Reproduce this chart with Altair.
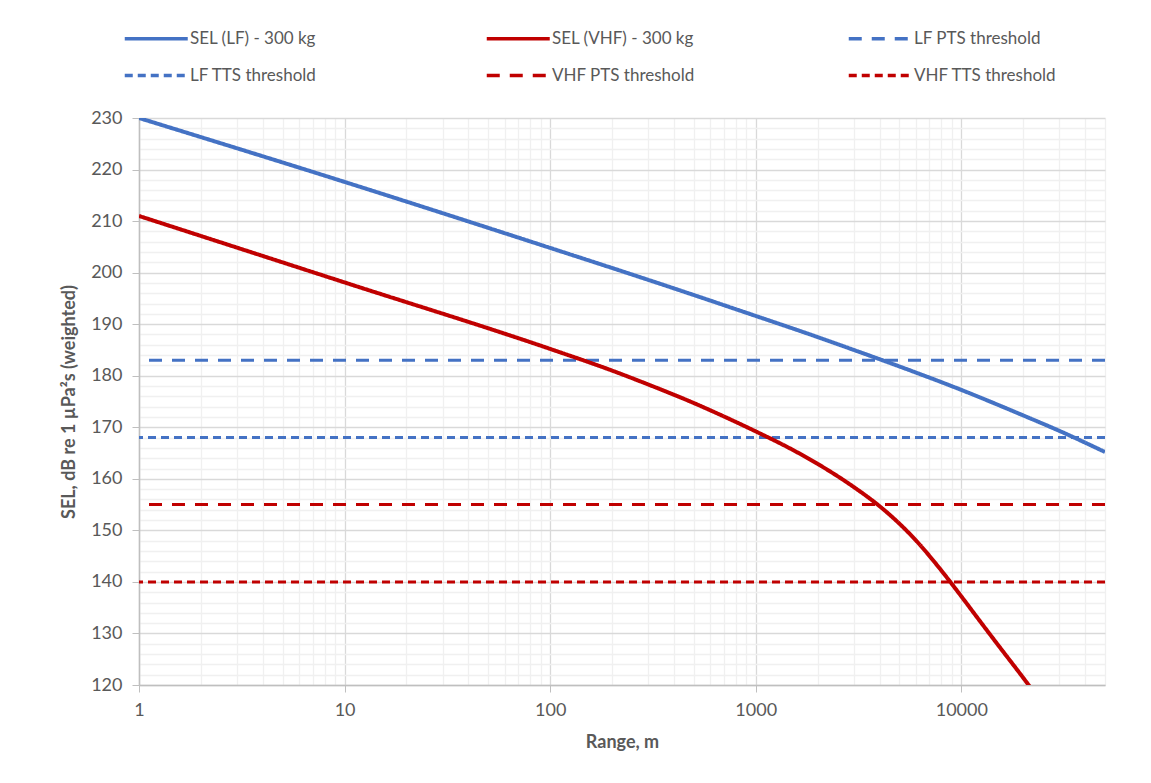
import altair as alt
import pandas as pd

# ---- data ----
lf_range = [1, 10, 100, 300, 1000, 2000, 3000, 5000, 10000, 20000, 30000, 50000]
lf_sel = [230.0, 217.6, 204.8, 198.6, 191.6, 187.5, 185.0, 181.8, 177.25, 172.3, 169.3, 165.2]

vhf_range = [1, 10, 100, 200, 300, 500, 700, 1000, 1500, 2000, 3000, 4000, 5000, 6000,
             8000, 10000, 12000, 15000, 20000, 22000]
vhf_sel = [211.0, 198.1, 185.2, 181.0, 178.3, 174.7, 172.1, 169.2, 165.7, 162.9, 158.4,
           154.7, 151.3, 148.1, 142.2, 137.2, 133.0, 127.9, 121.4, 119.2]

series_names = ["SEL (LF) - 300 kg", "SEL (VHF) - 300 kg", "LF PTS threshold",
                "LF TTS threshold", "VHF PTS threshold", "VHF TTS threshold"]
series_colors = ["#4472C4", "#C00000", "#4472C4", "#4472C4", "#C00000", "#C00000"]
series_dash = [[1, 0], [1, 0], [13, 10], [8, 5], [13, 10], [8, 5]]

threshold_names = ["LF PTS threshold", "LF TTS threshold", "VHF PTS threshold", "VHF TTS threshold"]
threshold_values = [183, 168, 155, 140]

x_major = [1, 10, 100, 1000, 10000]
x_ticks = [d * m for d in x_major for m in range(1, 10) if d * m <= 50000]
y_ticks = list(range(120, 232, 2))

curves = pd.concat([
    pd.DataFrame({"range": lf_range, "sel": lf_sel, "series": series_names[0]}),
    pd.DataFrame({"range": vhf_range, "sel": vhf_sel, "series": series_names[1]}),
])
thresholds = pd.DataFrame({"sel": threshold_values, "series": threshold_names})

FONT = "Lato"
GREY = "#595959"

legend = alt.Legend(
    title=None, orient="none", legendX=-16, legendY=-97, columns=3,
    direction="horizontal",
    gridAlign="all", columnPadding=146, rowPadding=11, symbolType="M-1,0L3,0",
    symbolSize=992, symbolStrokeWidth=3.5, labelFontSize=17, labelColor=GREY,
    labelFont=FONT, labelOffset=32, padding=0,
)

color = alt.Color("series:N", scale=alt.Scale(domain=series_names, range=series_colors), legend=legend)
dash = alt.StrokeDash("series:N", scale=alt.Scale(domain=series_names, range=series_dash), legend=legend)

major_test = "indexof([1,10,100,1000,10000], datum.value) >= 0"
x_axis = alt.Axis(
    values=x_ticks, tickCount=200, format="d",
    labelExpr=f"{major_test} ? datum.label : ''",
    gridColor={"condition": {"test": major_test, "value": "#d9d9d9"}, "value": "#f0f0f0"},
    tickColor={"condition": {"test": major_test, "value": "#bfbfbf"}, "value": "transparent"},
    gridWidth=1.3, tickSize=7, domainColor="#bfbfbf", domainWidth=1.5,
    labelFontSize=18, labelColor=GREY, labelFont=FONT, labelPadding=9,
    labelOverlap=False, labelFlush=False,
    title="Range, m", titleFontSize=18, titleFont=FONT, titleFontWeight="bold",
    titleColor=GREY, titlePadding=14,
)
y_axis = alt.Axis(
    values=y_ticks, tickCount=200, format="d",
    labelExpr="datum.value % 10 === 0 ? datum.label : ''",
    gridColor={"condition": {"test": "datum.value % 10 === 0", "value": "#d9d9d9"}, "value": "#f0f0f0"},
    tickColor={"condition": {"test": "datum.value % 10 === 0", "value": "#bfbfbf"}, "value": "transparent"},
    gridWidth=1.3, tickSize=7, domainColor="#bfbfbf", domainWidth=1.5,
    labelFontSize=18, labelColor=GREY, labelFont=FONT, labelPadding=10,
    labelOverlap=False, labelFlush=False,
    title="SEL, dB re 1 µPa²s (weighted)", titleFontSize=18, titleFont=FONT,
    titleFontWeight="bold", titleColor=GREY, titlePadding=12,
)

x_enc = alt.X("range:Q", scale=alt.Scale(type="log", domain=[1, 50000], nice=False), axis=x_axis)
y_enc = alt.Y("sel:Q", scale=alt.Scale(domain=[120, 230], nice=False, zero=False), axis=y_axis)

lines = alt.Chart(curves).mark_line(strokeWidth=4, interpolate="monotone", clip=True).encode(
    x=x_enc, y=y_enc, color=color, strokeDash=dash, detail="series:N",
)
rules = alt.Chart(thresholds).mark_rule(strokeWidth=3).encode(
    y=alt.Y("sel:Q"), color=color, strokeDash=dash,
)

chart = alt.layer(rules, lines).properties(
    width=966, height=567,
    autosize=alt.AutoSizeParams(type="none"),
    padding={"left": 139, "top": 118, "right": 46, "bottom": 98},
    background="white",
).configure_view(stroke="transparent")

chart.save("out.html", embed_options={"renderer": "svg", "actions": False})
